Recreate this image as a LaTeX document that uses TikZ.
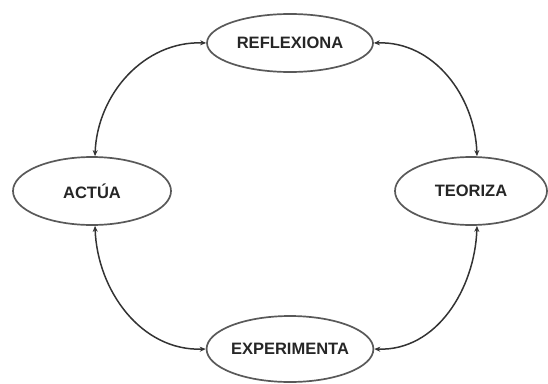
\documentclass[tikz,border=0pt]{standalone}
\usepackage{fontspec}
\setmainfont{Liberation Sans}
\usetikzlibrary{shapes.geometric,arrows.meta}
\begin{document}
\begin{tikzpicture}[x=1pt,y=-1pt,
  stage/.style={ellipse,draw=black!65,line width=1.7pt,inner sep=0pt,
    font=\fontsize{16.5}{19}\selectfont\bfseries,text=black!85},
  link/.style={draw=black!80,line width=1.5pt,
    {Stealth[length=6pt,width=5pt]}-{Stealth[length=6pt,width=5pt]}}]
\useasboundingbox (0,0) rectangle (548,383);
\node[stage,minimum width=166pt,minimum height=58pt] (r) at (290,43) {REFLEXIONA};
\node[stage,minimum width=158pt,minimum height=68pt] (a) at (92,191) {ACTÚA};
\node[stage,minimum width=152pt,minimum height=68pt] (t) at (471,191) {TEORIZA};
\node[stage,minimum width=166pt,minimum height=66pt] (e) at (290,349) {EXPERIMENTA};
\draw[link] (r.west) to[out=178,in=88] ([xshift=3pt]a.north);
\draw[link] (r.east) to[out=2,in=92] ([xshift=6pt]t.north);
\draw[link] ([xshift=3pt]a.south) to[out=-88,in=182] (e.west);
\draw[link] ([xshift=6pt]t.south) to[out=-92,in=-2] (e.east);
\end{tikzpicture}
\end{document}
